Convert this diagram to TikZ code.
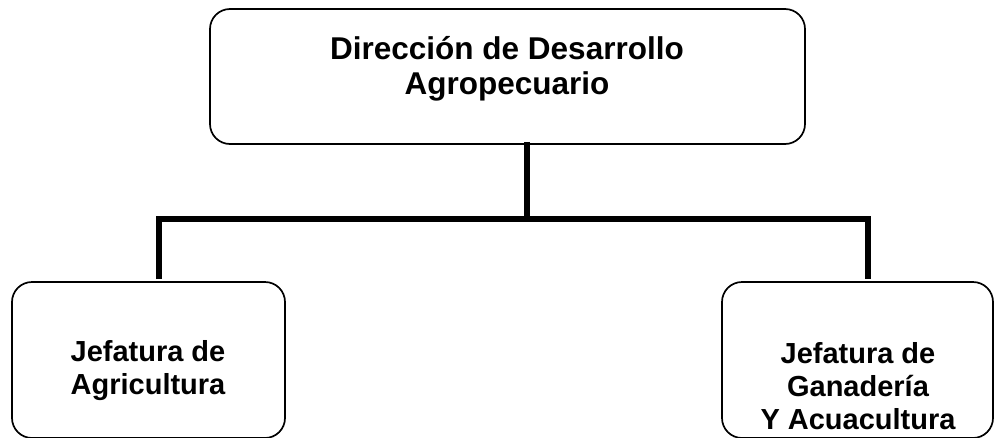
\documentclass[tikz,border=0pt]{standalone}
\usepackage{fontspec}
\setmainfont{Liberation Sans}
\begin{document}
\begin{tikzpicture}[x=1pt,y=-1pt,
  box/.style={draw=black, line width=1.7pt, rounded corners=20pt, inner sep=0pt},
  conn/.style={draw=black, line width=6pt, line join=miter},
  bigtxt/.style={align=center, font=\bfseries\fontsize{31.5}{35}\selectfont, inner sep=0pt},
  smalltxt/.style={align=center, font=\bfseries\fontsize{29}{33}\selectfont, inner sep=0pt}]
\useasboundingbox (0,0) rectangle (994,437);
\clip (0,0) rectangle (994,437);
\fill[white] (0,0) rectangle (994,437);
% boxes
\node[box, minimum width=595pt, minimum height=135pt] (dir) at (507.5,76.5) {};
\node[box, minimum width=273pt, minimum height=156pt] (agr) at (148.5,360) {};
\node[box, minimum width=271pt, minimum height=156pt] (gan) at (857.5,360) {};
% texts
\node[bigtxt, anchor=north] (dirt) at (507,36) {Dirección de Desarrollo\\Agropecuario};
\node[smalltxt, anchor=north] (agrt) at (148,340) {Jefatura de\\Agricultura};
\node[smalltxt, anchor=north] (gant) at (858,342) {Jefatura de\\Ganadería\\Y Acuacultura};
% connectors
\coordinate (jn) at (527,216);
\coordinate (lt) at (159,219);
\coordinate (rt) at (868,219);
\draw[conn] ([yshift=3pt]dir.south -| jn) -- (jn);
\draw[conn] ([yshift=2pt]agr.north -| lt) -- (lt) -- (rt) -- ([yshift=2pt]gan.north -| rt);
\end{tikzpicture}
\end{document}
